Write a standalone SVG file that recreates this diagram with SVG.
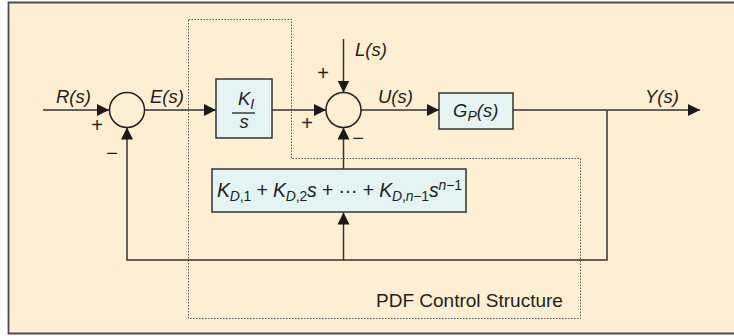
<svg xmlns="http://www.w3.org/2000/svg" width="734" height="336" viewBox="0 0 734 336">
<style>
.ln{fill:none;stroke:#333;stroke-width:1.5}
.box{fill:#E3F4F2;stroke:#333;stroke-width:1.5}
.sum{fill:#FEEED2;stroke:#222;stroke-width:1.5}
.v{font-family:"Liberation Sans",Arial,sans-serif;font-style:italic;font-size:18.5px;fill:#231f20}
.t{font-family:"Liberation Sans",Arial,sans-serif;font-size:19px;fill:#231f20}
.sg{font-family:"Liberation Sans",Arial,sans-serif;font-size:20px;fill:#231f20;text-anchor:middle}
.sub{font-size:14px}
.up{font-style:normal}
</style>
<defs>
<marker id="ah" markerWidth="12" markerHeight="12" refX="12" refY="6" orient="auto" markerUnits="userSpaceOnUse">
<path d="M0,0 L12,6 L0,12 z" fill="#1a1a1a"/>
</marker>
</defs>
<rect x="0" y="0" width="734" height="336" fill="#ffffff"/>
<rect x="8.5" y="2.5" width="726" height="331" fill="#FEEED2"/>
<path d="M734,2.5 H8.5 V333.5 H734" fill="none" stroke="#4a4a4a" stroke-width="1.8"/>
<g id="pdf-structure">
<polygon points="188.5,19.5 291.5,19.5 291.5,158.5 580.5,158.5 580.5,318.5 188.5,318.5" fill="none" stroke="#555" stroke-width="1" stroke-dasharray="1.5,1.5"/>
<text class="t" x="376" y="307">PDF Control Structure</text>
</g>
<g id="connectors">
<path class="ln" d="M43,110 H109" marker-end="url(#ah)"/>
<path class="ln" d="M144.5,110 H216" marker-end="url(#ah)"/>
<path class="ln" d="M272,110 H326" marker-end="url(#ah)"/>
<path class="ln" d="M361,110 H439" marker-end="url(#ah)"/>
<path class="ln" d="M513,110 H700" marker-end="url(#ah)"/>
<path class="ln" d="M343.5,39 V92.5" marker-end="url(#ah)"/>
<path class="ln" d="M607,110 V260 H127 V127.5" marker-end="url(#ah)"/>
<path class="ln" d="M343.5,260 V212.5" marker-end="url(#ah)"/>
<path class="ln" d="M343.5,169 V127.5" marker-end="url(#ah)"/>
</g>
<g id="sum1">
<circle class="sum" cx="127" cy="110" r="17.5"/>
<text class="sg" x="97" y="132">+</text>
<text class="sg" x="112" y="160">−</text>
</g>
<g id="sum2">
<circle class="sum" cx="343.5" cy="110" r="17.5"/>
<text class="sg" x="323" y="80">+</text>
<text class="sg" x="307" y="130">+</text>
<text class="sg" x="358" y="145">−</text>
</g>
<g id="ki">
<rect class="box" x="216" y="79" width="56" height="59"/>
<text class="v" x="238" y="105">K<tspan class="sub" dy="4">I</tspan></text>
<line x1="232" y1="113" x2="255" y2="113" stroke="#231f20" stroke-width="1.3"/>
<text class="v" x="244" y="128" text-anchor="middle">s</text>
</g>
<g id="gp">
<rect class="box" x="439" y="93" width="74" height="36"/>
<text class="v" x="453" y="117">G<tspan class="sub" dy="4">P</tspan><tspan dy="-4">(s)</tspan></text>
</g>
<g id="pd">
<rect class="box" x="212" y="169" width="254" height="43"/>
<text class="v" x="217" y="197" textLength="245" lengthAdjust="spacing" style="font-size:19.5px">K<tspan class="sub" dy="4">D<tspan class="up">,1</tspan></tspan><tspan class="up" dy="-4"> + </tspan>K<tspan class="sub" dy="4">D<tspan class="up">,2</tspan></tspan><tspan dy="-4">s</tspan><tspan class="up"> + ··· + </tspan>K<tspan class="sub" dy="4">D<tspan class="up">,</tspan>n<tspan class="up">−1</tspan></tspan><tspan dy="-4">s</tspan><tspan class="sub" dy="-7">n<tspan class="up">−1</tspan></tspan></text>
</g>
<g id="labels">
<text class="v" x="56" y="103">R(s)</text>
<text class="v" x="150" y="103">E(s)</text>
<text class="v" x="355" y="56">L(s)</text>
<text class="v" x="378" y="103">U(s)</text>
<text class="v" x="645" y="103">Y(s)</text>
</g>
</svg>
